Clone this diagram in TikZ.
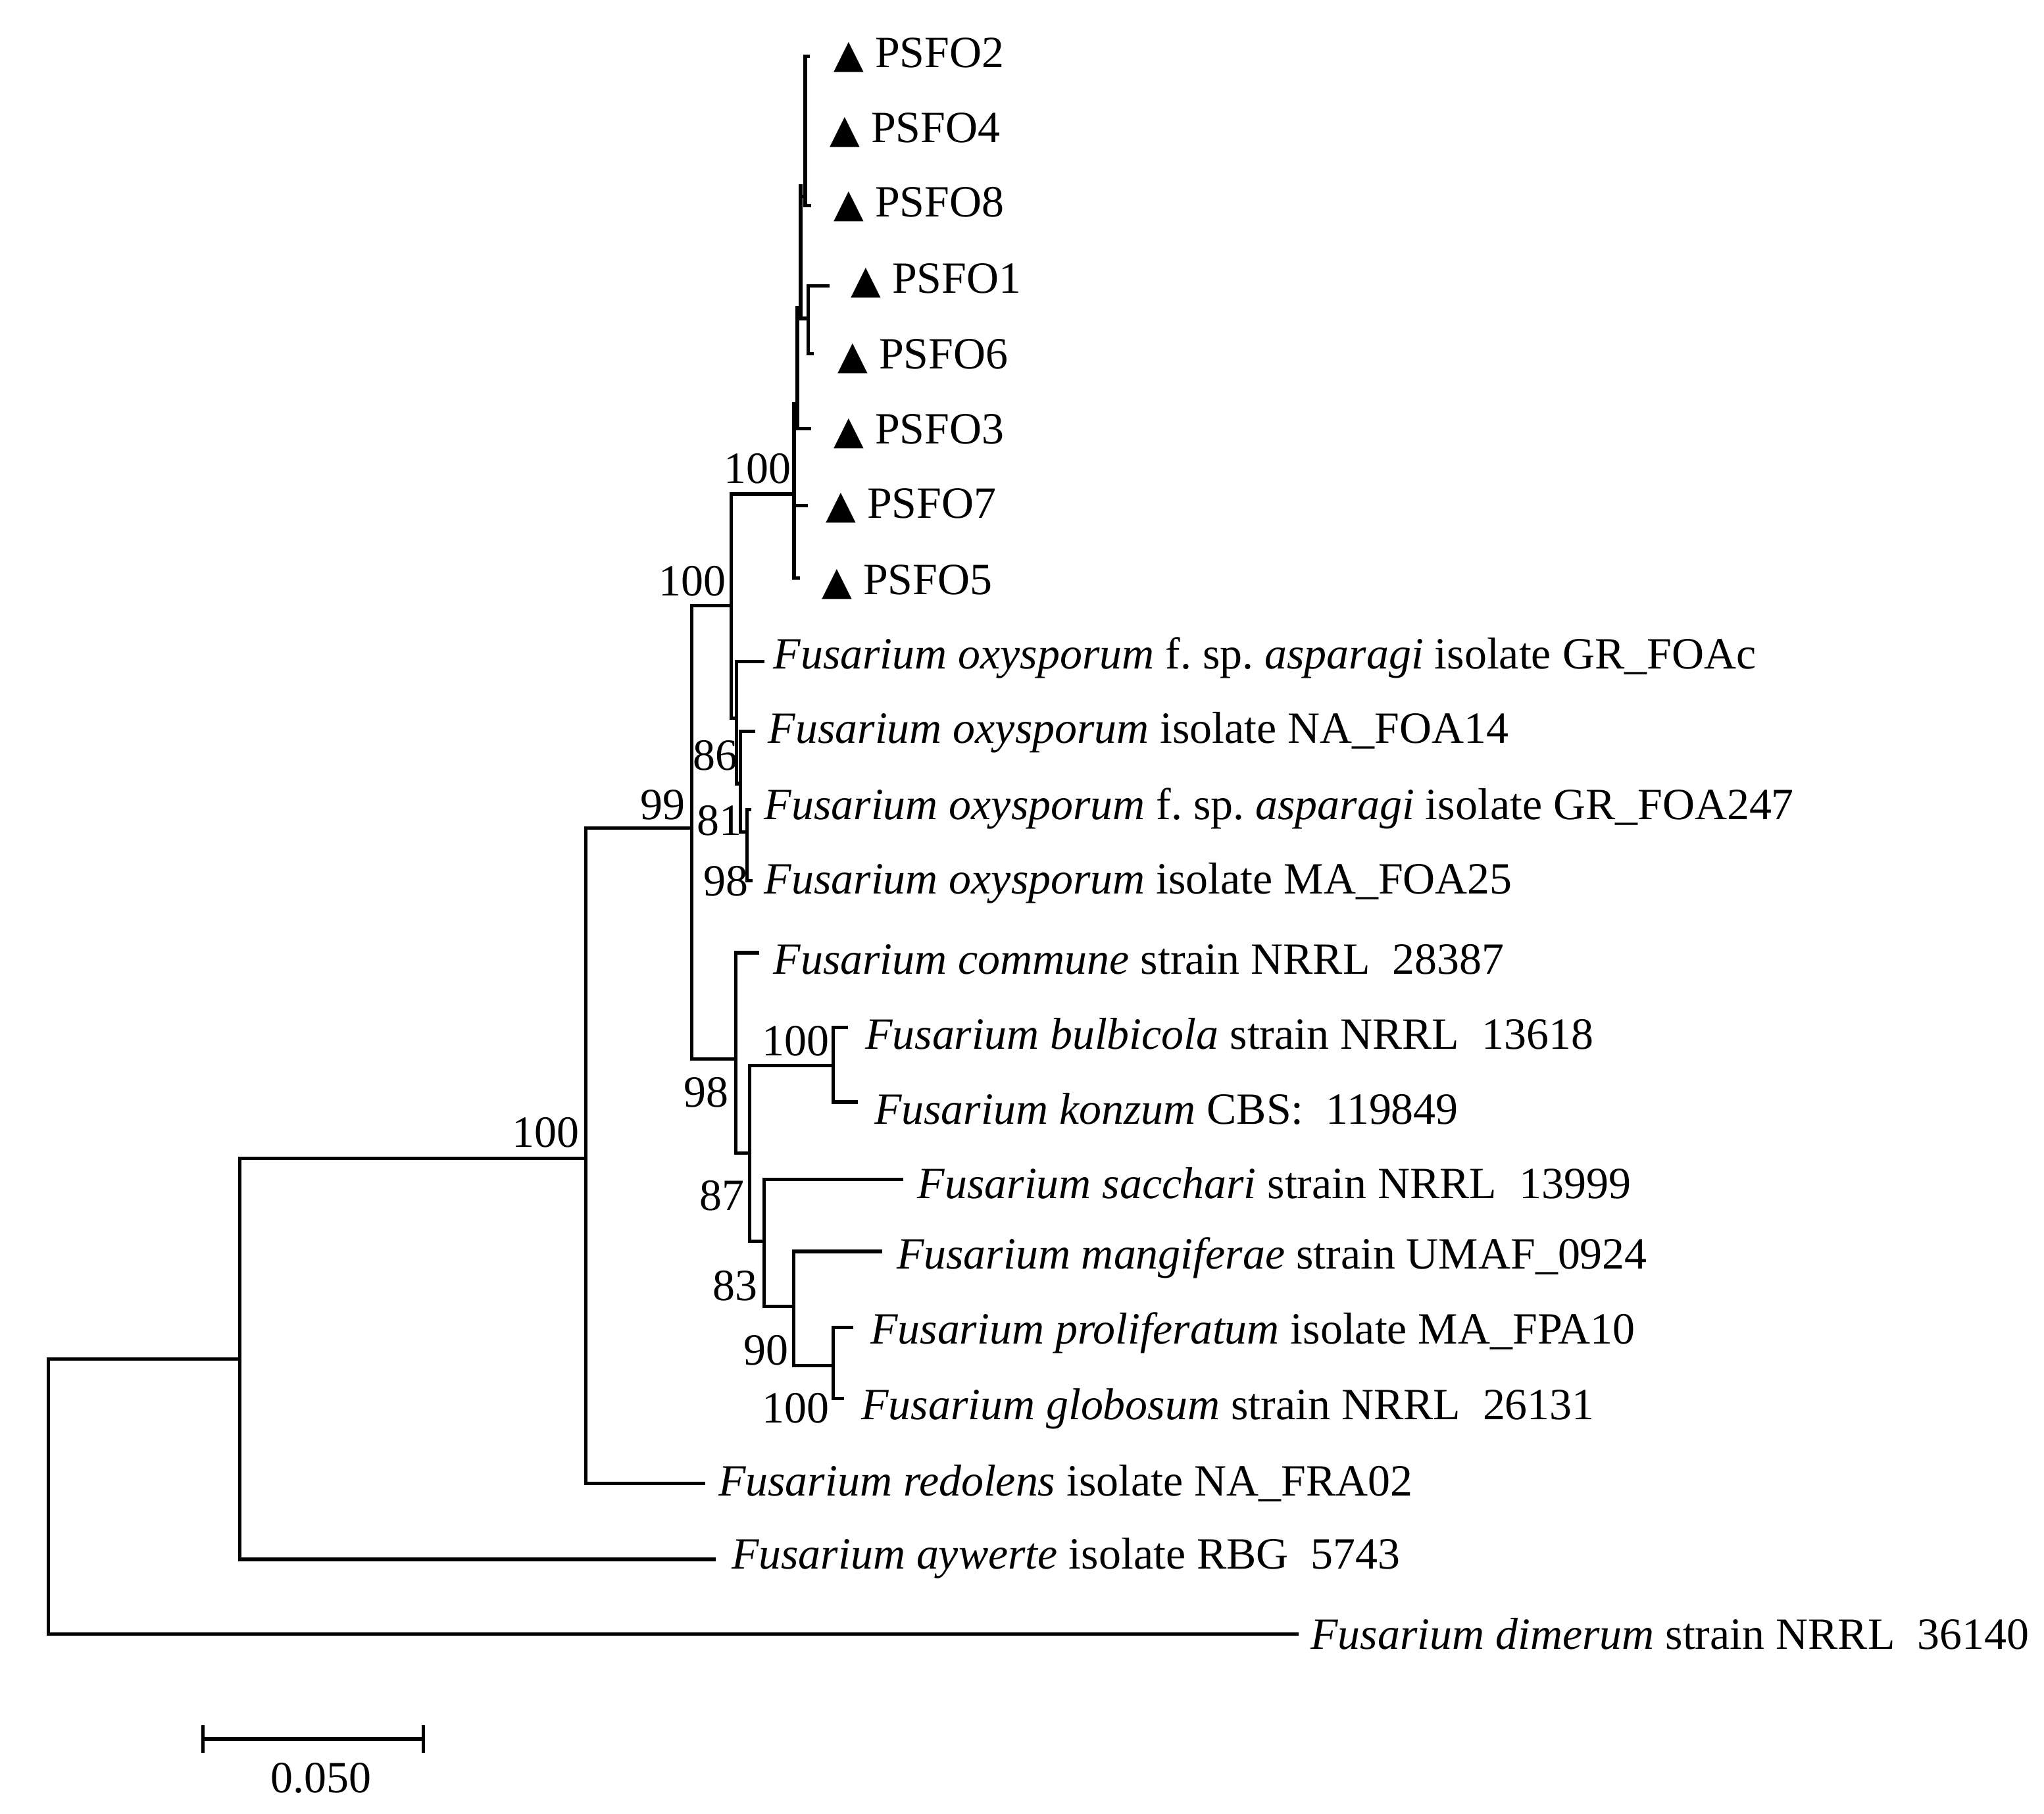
\documentclass[tikz,border=0pt]{standalone}
\usepackage{fontspec}
\setmainfont{Liberation Serif}
\newfontfamily\trifont{DejaVu Sans}
\begin{document}
\begin{tikzpicture}[x=0.02cm,y=-0.02cm,
  br/.style={line width=1.5pt,line cap=rect},
  lab/.style={anchor=west,inner sep=0pt,yshift=0.06cm,font=\fontsize{19.4}{22}\selectfont},
  bs/.style={anchor=south east,inner sep=1pt,font=\fontsize{19.4}{22}\selectfont},
  bn/.style={anchor=north east,inner sep=1pt,font=\fontsize{19.4}{22}\selectfont}]
\useasboundingbox (0,0) rectangle (1560,1384);
\newcommand{\tri}{{\trifont\fontsize{17}{20}\selectfont ▲}\ }
% root
\draw[br] (37,1037) -- (37,1247) -- (990,1247);
\draw[br] (37,1037) -- (183,1037);
\draw[br] (183,884) -- (183,1190) -- (545,1190);
\draw[br] (183,884) -- (447,884);
\draw[br] (447,632) -- (447,1132) -- (537,1132);
\draw[br] (447,632) -- (528,632);
\draw[br] (528,462) -- (528,808) -- (561.5,808);
\draw[br] (528,462) -- (558,462);
% PSFO clade
\draw[br] (558,377) -- (558,548) -- (562,548);
\draw[br] (558,377) -- (606,377);
\draw[br] (606,308) -- (606,441) -- (609,441);
\draw[br] (606,386) -- (615,386);
\draw[br] (606,308) -- (608.5,308);
\draw[br] (608.5,235) -- (608.5,327) -- (618,327);
\draw[br] (608.5,240) -- (611,240);
\draw[br] (611,142) -- (611,243) -- (617,243);
\draw[br] (617,218) -- (617,270) -- (620,270);
\draw[br] (617,218) -- (632,218);
\draw[br] (611,150) -- (614.5,150);
\draw[br] (614.5,43) -- (614.5,157) -- (618,157);
\draw[br] (614.5,43) -- (617,43);
% oxysporum clade
\draw[br] (562,505) -- (562,598) -- (565,598);
\draw[br] (562,505) -- (582,505);
\draw[br] (565,558) -- (565,635) -- (570,635);
\draw[br] (565,558) -- (575,558);
\draw[br] (570,618) -- (570,672) -- (573,672);
\draw[br] (570,618) -- (572,618);
% lower clade
\draw[br] (561.5,727) -- (561.5,880) -- (572.3,880);
\draw[br] (561.5,727) -- (578,727);
\draw[br] (572.3,813) -- (572.3,947) -- (583,947);
\draw[br] (572.3,813) -- (636,813);
\draw[br] (636,784) -- (636,841) -- (653.5,841);
\draw[br] (636,784) -- (646,784);
\draw[br] (583,900) -- (583,997) -- (605.7,997);
\draw[br] (583,900) -- (688,900);
\draw[br] (605.7,955) -- (605.7,1042) -- (636,1042);
\draw[br] (605.7,955) -- (672,955);
\draw[br] (636,1013) -- (636,1067) -- (643,1067);
\draw[br] (636,1013) -- (650,1013);
% leaf labels
\node[lab] (l1) at (636,45) {\tri PSFO2};
\node[lab] (l2) at (633,102) {\tri PSFO4};
\node[lab] (l3) at (636,159) {\tri PSFO8};
\node[lab] (l4) at (649,217) {\tri PSFO1};
\node[lab] (l5) at (639,275) {\tri PSFO6};
\node[lab] (l6) at (636,332) {\tri PSFO3};
\node[lab] (l7) at (630,389) {\tri PSFO7};
\node[lab] (l8) at (627,447) {\tri PSFO5};
\node[lab] (o1) at (590,505) {\textit{Fusarium oxysporum} f.\ sp.\ \textit{asparagi} isolate GR\_FOAc};
\node[lab] (o2) at (586,562) {\textit{Fusarium oxysporum} isolate NA\_FOA14};
\node[lab] (o3) at (583,620) {\textit{Fusarium oxysporum} f.\ sp.\ \textit{asparagi} isolate GR\_FOA247};
\node[lab] (o4) at (583,677) {\textit{Fusarium oxysporum} isolate MA\_FOA25};
\node[lab] (c1) at (590,735) {\textit{Fusarium commune} strain NRRL\ \ 28387};
\node[lab] (c2) at (660,792) {\textit{Fusarium bulbicola} strain NRRL\ \ 13618};
\node[lab] (c3) at (667,849) {\textit{Fusarium konzum} CBS:\ \ 119849};
\node[lab] (c4) at (700,906) {\textit{Fusarium sacchari} strain NRRL\ \ 13999};
\node[lab] (c5) at (684,963) {\textit{Fusarium mangiferae} strain UMAF\_0924};
\node[lab] (c6) at (664,1020) {\textit{Fusarium proliferatum} isolate MA\_FPA10};
\node[lab] (c7) at (657,1078) {\textit{Fusarium globosum} strain NRRL\ \ 26131};
\node[lab] (c8) at (548,1135) {\textit{Fusarium redolens} isolate NA\_FRA02};
\node[lab] (c9) at (558,1192) {\textit{Fusarium aywerte} isolate RBG\ \ 5743};
\node[lab] (c10) at (1000,1250) {\textit{Fusarium dimerum} strain NRRL\ \ 36140};
% bootstrap values
\node[bs] (b1) at (606,371) {100};
\node[bs] (b2) at (556,457) {100};
\node[bs] (b3) at (525,628) {99};
\node[bs] (b4) at (444,878) {100};
\node[bs] (b5) at (565,590) {86};
\node[bs] (b6) at (568,640) {81};
\node[bs] (b7) at (573,686) {98};
\node[bn] (b8) at (558,820) {98};
\node[bs] (b9) at (570,926) {87};
\node[bs] (b10) at (580,995) {83};
\node[bs] (b11) at (604,1044) {90};
\node[bs] (b12) at (635,808) {100};
\node[bs] (b13) at (635,1088) {100};
% scale bar
\draw[br] (155,1318) -- (155,1336);
\draw[br] (323,1318) -- (323,1336);
\draw[br] (155,1327) -- (323,1327);
\node[inner sep=0pt,font=\fontsize{19.4}{22}\selectfont] (sc) at (245,1357) {0.050};
\end{tikzpicture}
\end{document}
